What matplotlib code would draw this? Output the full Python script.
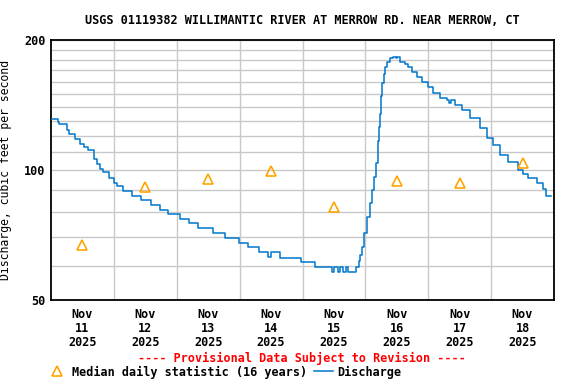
import numpy as np
import matplotlib
matplotlib.use("Agg")
import matplotlib.pyplot as plt
from matplotlib.lines import Line2D
from matplotlib.ticker import FixedLocator, NullFormatter

plt.rcParams["font.family"] = "DejaVu Sans Mono"
plt.rcParams["font.weight"] = "bold"

# hours since Nov 11 2025 00:00, discharge in cfs
flow_hours = [0, 2.5, 3, 6.2, 7.0, 9.2, 11.1, 12.5,
              14.2, 16.5, 17.5, 18.7, 20, 22.1, 24, 25.1,
              27.4, 30.8, 34.3, 38.1, 41.6, 44.7, 49.2, 52.7,
              56.2, 61.8, 66.4, 71.8, 75.2, 79.4, 83.0, 83.8,
              87.4, 95.4, 100.7, 107.2, 108.0, 109.5, 110.5, 111.5,
              112.5, 113.3, 116.4, 117.5, 118.0, 118.8, 119.6, 120.7,
              121.9, 122.6, 123.4, 124.1, 124.7, 124.9, 125.3, 125.7,
              126.1, 126.5, 127.2, 127.6, 128.4, 129.5, 130.7, 131.5,
              132.0, 133.4, 135.1, 136.2, 137.7, 139.6, 141.5, 143.8,
              145.7, 148.4, 151.1, 152.0, 152.6, 154.1, 156.8, 159.9,
              163.7, 166.4, 168.7, 171.3, 174.4, 178.2, 180.1, 182.0,
              185.5, 187.7, 188.9, 190.8]
flow_cfs = [131, 129, 128, 124, 121, 118, 115, 113,
            111, 106, 103, 100.5, 99, 96, 93.5, 92,
            89.5, 87, 85, 83, 81, 79, 77, 75.3,
            73.5, 71.3, 69.5, 67.6, 66.4, 64.6, 62.9, 64.6,
            62.7, 61.2, 59.5, 58.0, 59.5, 58.0, 59.5, 58.0,
            59.5, 58.0, 59.5, 61.5, 63.6, 66.4, 71.3, 78,
            83.7, 90, 96.5, 104, 110, 117, 126, 135,
            148, 159, 167, 173.5, 178, 181.4, 183, 181.4,
            183, 178, 176, 173.5, 169, 164.5, 160, 155.4,
            150.5, 146.6, 145.2, 143, 145.2, 141.4, 137.8, 131.8,
            125, 118.4, 114.2, 108.3, 104.5, 100, 98, 95.7,
            93.2, 90.2, 87.1, 87.1]

# median daily statistic, plotted at noon of each day
median_hours = [12, 36, 60, 84, 108, 132, 156, 180]
median_cfs = [67, 91.5, 95.5, 99.5, 82.2, 94.5, 93.4, 103.7]

day_labels = ["Nov\n11\n2025", "Nov\n12\n2025", "Nov\n13\n2025", "Nov\n14\n2025",
              "Nov\n15\n2025", "Nov\n16\n2025", "Nov\n17\n2025", "Nov\n18\n2025"]

line_color = "#0077cc"
tri_color = "#ffa500"

fig = plt.figure(figsize=(5.76, 3.84), dpi=100)
ax = fig.add_axes([51 / 576, 1 - 300 / 384, 503 / 576, 260 / 384])

ax.plot(flow_hours, flow_cfs, drawstyle="steps-post", color=line_color, lw=1.1, zorder=3)
ax.plot(median_hours, median_cfs, ls="none", marker="^", ms=7, mfc="none",
        mec=tri_color, mew=1.2, zorder=4)

ax.set_yscale("log")
ax.set_ylim(50, 200)
ax.set_xlim(0, 192)
ax.yaxis.set_major_locator(FixedLocator([50, 100, 200]))
ax.yaxis.set_minor_locator(FixedLocator([60, 70, 80, 90] + list(range(110, 200, 10))))
ax.yaxis.set_minor_formatter(NullFormatter())
ax.set_yticklabels(["50", "100", "200"])
ax.set_xticks(median_hours)
ax.set_xticklabels(day_labels, linespacing=1.1)
ax.set_xticks(np.arange(24, 192, 24), minor=True)

ax.grid(True, which="both", color="#c8c8c8", lw=1)
ax.grid(False, which="major", axis="x")
ax.grid(True, which="minor", axis="x", color="#c8c8c8", lw=1)
ax.tick_params(which="both", length=0, labelsize=8.5)
ax.tick_params(axis="x", pad=6)
ax.tick_params(axis="y", pad=4)
for s in ax.spines.values():
    s.set_linewidth(1.3)

ax.set_ylabel("Discharge, cubic feet per second", fontsize=8.3)
ax.yaxis.set_label_coords(-39 / 503, 0.5)

fig.text(302 / 576, 1 - 20 / 384, "USGS 01119382 WILLIMANTIC RIVER AT MERROW RD. NEAR MERROW, CT",
         ha="center", va="center", fontsize=8.6)
fig.text(302 / 576, 1 - 358 / 384, "---- Provisional Data Subject to Revision ----",
         ha="center", va="center", fontsize=8.5, color="red")

handles = [Line2D([], [], ls="none", marker="^", ms=7, mfc="none", mec=tri_color, mew=1.2),
           Line2D([], [], color=line_color, lw=1.1)]
fig.legend(handles, ["Median daily statistic (16 years)", "Discharge"], ncol=2,
           loc="center left", bbox_to_anchor=(48 / 576, 1 - 372 / 384), frameon=False,
           fontsize=8.5, handlelength=1.6, handletextpad=0.4, columnspacing=0.6,
           borderpad=0, borderaxespad=0)

fig.savefig("out.png", dpi=100)
